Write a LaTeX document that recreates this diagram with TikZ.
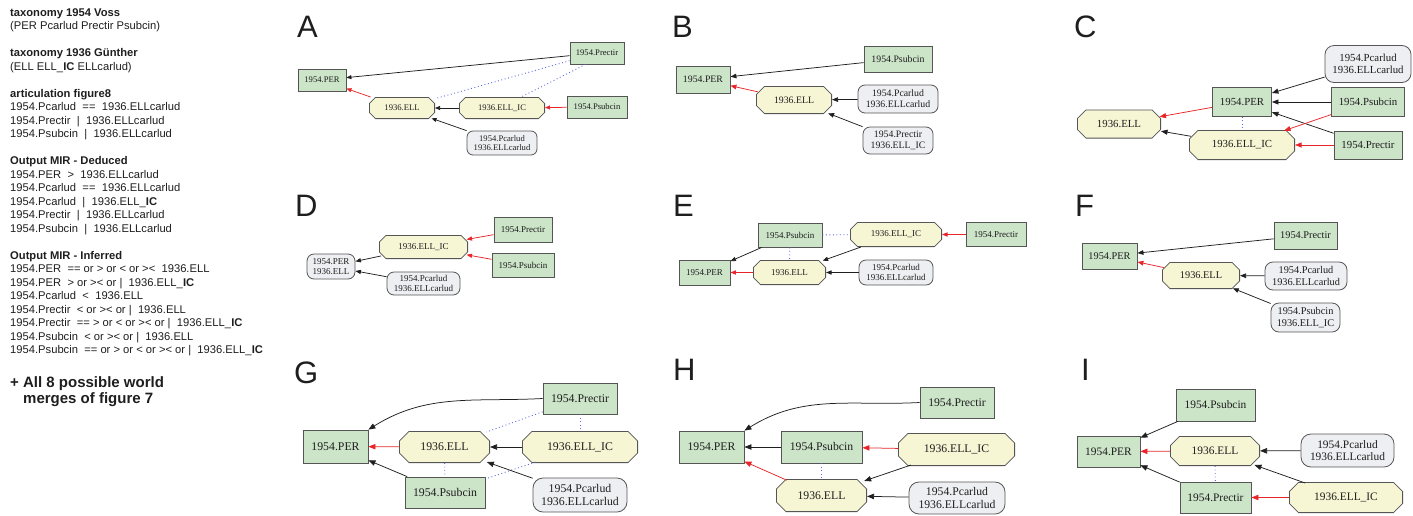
\documentclass[tikz,border=0pt]{standalone}
\usepackage{fontspec}
\setmainfont{Liberation Serif}
\newfontfamily\sansf{Liberation Sans}
\usetikzlibrary{arrows.meta}
\definecolor{boxgreen}{RGB}{204,228,200}
\definecolor{octyellow}{RGB}{246,245,212}
\definecolor{rgray}{RGB}{238,239,242}
\definecolor{bordergray}{RGB}{85,85,85}
\definecolor{edgered}{RGB}{232,38,42}
\definecolor{dotblue}{RGB}{90,106,224}
\definecolor{txt}{RGB}{30,30,30}
\newcommand{\dsp}{\hspace{0.56em}}
\newcommand{\chm}{7}
\tikzset{
  x=1pt, y=1pt,
  sz/.style 2 args={minimum width=#1pt, minimum height=#2pt},
  gb/.style={rectangle, draw=bordergray, fill=boxgreen, line width=0.8pt, inner sep=0pt, align=center, text=txt},
  oc/.style={rectangle, inner sep=0pt, outer sep=0pt, text=txt,
    path picture={
      \path[fill=octyellow, draw=bordergray, line width=0.8pt, line join=miter]
        ([shift={(\chm,-0.4)}]path picture bounding box.north west)
        -- ([shift={(-\chm,-0.4)}]path picture bounding box.north east)
        -- ([shift={(-0.4,-\chm)}]path picture bounding box.north east)
        -- ([shift={(-0.4,\chm)}]path picture bounding box.south east)
        -- ([shift={(-\chm,0.4)}]path picture bounding box.south east)
        -- ([shift={(\chm,0.4)}]path picture bounding box.south west)
        -- ([shift={(0.4,\chm)}]path picture bounding box.south west)
        -- ([shift={(0.4,-\chm)}]path picture bounding box.north west)
        -- cycle;
    }},
  rb/.style={rectangle, rounded corners=#1pt, draw=bordergray, fill=rgray, line width=0.8pt, inner sep=0pt, align=center, text=txt},
  ah/.style={-{Triangle[length=5pt,width=4pt]}},
  blk/.style={draw=black!88, line width=0.75pt, ah},
  rd/.style={draw=edgered, line width=0.75pt, ah},
  dt/.style={draw=dotblue, line width=0.9pt, dash pattern=on 0.9pt off 2.6pt},
  lt/.style={anchor=base west, inner sep=0pt, font=\sansf\fontsize{11.2}{13.5}\selectfont, text=txt},
  bt/.style={anchor=base west, inner sep=0pt, font=\sansf\bfseries\fontsize{15}{17}\selectfont, text=txt},
  letter/.style={anchor=base west, inner sep=0pt, font=\sansf\fontsize{31}{31}\selectfont, text=txt}
}
\begin{document}
\begin{tikzpicture}
\useasboundingbox (0,0) rectangle (1413,-515);
% ---------------- left text
\node[lt] (t1) at (10,-16) {\bfseries taxonomy 1954 Voss};
\node[lt] (t2) at (10,-29.5) {(PER Pcarlud Prectir Psubcin)};
\node[lt] (t3) at (10,-56.5) {\bfseries taxonomy 1936 Günther};
\node[lt] (t4) at (10,-70) {(ELL ELL\_\textbf{IC} ELLcarlud)};
\node[lt] (t5) at (10,-97) {\bfseries articulation figure8};
\node[lt] (t6) at (10,-110.5) {1954.Pcarlud\dsp==\dsp1936.ELLcarlud};
\node[lt] (t7) at (10,-124) {1954.Prectir\dsp|\dsp1936.ELLcarlud};
\node[lt] (t8) at (10,-137.5) {1954.Psubcin\dsp|\dsp1936.ELLcarlud};
\node[lt] (t9) at (10,-164.5) {\bfseries Output MIR - Deduced};
\node[lt] (t10) at (10,-178) {1954.PER\dsp>\dsp1936.ELLcarlud};
\node[lt] (t11) at (10,-191.5) {1954.Pcarlud\dsp==\dsp1936.ELLcarlud};
\node[lt] (t12) at (10,-205) {1954.Pcarlud\dsp|\dsp1936.ELL\_\textbf{IC}};
\node[lt] (t13) at (10,-218.5) {1954.Prectir\dsp|\dsp1936.ELLcarlud};
\node[lt] (t14) at (10,-232) {1954.Psubcin\dsp|\dsp1936.ELLcarlud};
\node[lt] (t15) at (10,-259) {\bfseries Output MIR - Inferred};
\node[lt] (t16) at (10,-272.5) {1954.PER\dsp== or > or < or ><\dsp1936.ELL};
\node[lt] (t17) at (10,-286) {1954.PER\dsp> or >< or |\dsp1936.ELL\_\textbf{IC}};
\node[lt] (t18) at (10,-299.5) {1954.Pcarlud\dsp<\dsp1936.ELL};
\node[lt] (t19) at (10,-313) {1954.Prectir\dsp< or >< or |\dsp1936.ELL};
\node[lt] (t20) at (10,-326.5) {1954.Prectir\dsp== > or < or >< or |\dsp1936.ELL\_\textbf{IC}};
\node[lt] (t21) at (10,-340) {1954.Psubcin\dsp< or >< or |\dsp1936.ELL};
\node[lt] (t22) at (10,-353.5) {1954.Psubcin\dsp== or > or < or >< or |\dsp1936.ELL\_\textbf{IC}};
\node[bt] (t23) at (10,-387) {+ All 8 possible world};
\node[bt] (t24) at (23,-403) {merges of figure 7};
% ---------------- letters
\node[letter] (LA) at (297,-37) {A};
\node[letter] (LB) at (672,-37) {B};
\node[letter] (LC) at (1074,-37) {C};
\node[letter] (LD) at (295,-216) {D};
\node[letter] (LE) at (673,-216) {E};
\node[letter] (LF) at (1075,-216) {F};
\node[letter] (LG) at (294,-383) {G};
\node[letter] (LH) at (673,-380) {H};
\node[letter] (LI) at (1081,-380) {I};
% ---------------- panel A
\begin{scope}[every node/.append style={font=\fontsize{8.6}{9.5}\selectfont},
  ah/.style={-{Triangle[length=5pt,width=4pt]}}]
\renewcommand{\chm}{6.5}
\node[gb,sz={48}{22}] (aPER) at (322,-80) {1954.PER};
\node[oc,sz={66}{22}] (aELL) at (402,-108) {1936.ELL};
\node[oc,sz={86}{22}] (aIC) at (502,-108) {1936.ELL\_IC};
\node[gb,sz={60}{22}] (aPsub) at (597,-107) {1954.Psubcin};
\node[gb,sz={54}{22}] (aPrec) at (597,-53) {1954.Prectir};
\node[rb=6,sz={70}{24}] (aPc) at (502,-143) {1954.Pcarlud\\1936.ELLcarlud};
\draw[dt] (aPrec) -- (aELL);
\draw[dt] (aPrec.225) -- (aIC.30);
\draw[blk] (aPrec) -- (aPER);
\draw[rd] (aELL) -- (aPER);
\draw[blk] (aIC) -- (aELL);
\draw[rd] (aPsub) -- (aIC);
\draw[blk, shorten >=-2pt] (aPc) -- (aELL);
\end{scope}
% ---------------- panel B
\begin{scope}[every node/.append style={font=\fontsize{9.8}{10.8}\selectfont},
  ah/.style={-{Triangle[length=6pt,width=4.6pt]}}]
\renewcommand{\chm}{8.5}
\node[gb,sz={54}{27}] (bPER) at (703,-79.5) {1954.PER};
\node[oc,sz={76}{28}] (bELL) at (794,-100) {1936.ELL};
\node[gb,sz={68}{26}] (bPsub) at (898,-59) {1954.Psubcin};
\node[rb=7,sz={80}{28}] (bPc) at (898,-99) {1954.Pcarlud\\1936.ELLcarlud};
\node[rb=7,sz={70}{27}] (bPrIC) at (898,-140.5) {1954.Prectir\\1936.ELL\_IC};
\draw[blk] (bPsub) -- (bPER);
\draw[rd, shorten <=-2pt] (bELL) -- (bPER);
\draw[blk] (bPc) -- (bELL);
\draw[blk, shorten >=-2pt] (bPrIC) -- (bELL);
\end{scope}
% ---------------- panel C
\begin{scope}[every node/.append style={font=\fontsize{10.8}{11.9}\selectfont},
  ah/.style={-{Triangle[length=6.5pt,width=5pt]}}]
\renewcommand{\chm}{9}
\node[rb=9,sz={86}{37}] (cPc) at (1368,-64) {1954.Pcarlud\\1936.ELLcarlud};
\node[gb,sz={59}{29}] (cPER) at (1242,-102) {1954.PER};
\node[gb,sz={73}{29}] (cPsub) at (1368,-102) {1954.Psubcin};
\node[gb,sz={68}{28}] (cPrec) at (1368,-145) {1954.Prectir};
\node[oc,sz={84}{29}] (cELL) at (1119,-124) {1936.ELL};
\node[oc,sz={106}{30}] (cIC) at (1242,-145) {1936.ELL\_IC};
\draw[dt] (cPER) -- (cIC);
\draw[blk] (cPc) -- (cPER);
\draw[blk] (cPsub) -- (cPER);
\draw[blk] (cPrec) -- (cPER);
\draw[rd, shorten >=-1.5pt] (cPER) -- (cELL);
\draw[blk, shorten <=-2pt] (cIC) -- (cELL);
\draw[rd, shorten >=-2pt] (cPsub) -- (cIC);
\draw[rd] (cPrec) -- (cIC);
\end{scope}
% ---------------- panel D
\begin{scope}[every node/.append style={font=\fontsize{9}{9.9}\selectfont},
  ah/.style={-{Triangle[length=5.5pt,width=4.2pt]}}]
\renewcommand{\chm}{7}
\node[rb=7,sz={48}{25}] (dPE) at (331,-266.5) {1954.PER\\1936.ELL};
\node[oc,sz={89}{24}] (dIC) at (423.5,-247) {1936.ELL\_IC};
\node[gb,sz={58}{25}] (dPrec) at (523,-229.5) {1954.Prectir};
\node[gb,sz={62}{24}] (dPsub) at (523,-265) {1954.Psubcin};
\node[rb=7,sz={73}{23}] (dPc) at (423.5,-283.5) {1954.Pcarlud\\1936.ELLcarlud};
\draw[blk, shorten <=-2pt] (dIC) -- (dPE);
\draw[blk] (dPc) -- (dPE);
\draw[rd, shorten >=-1.5pt] (dPrec) -- (dIC);
\draw[rd, shorten >=-1.5pt] (dPsub) -- (dIC);
\end{scope}
% ---------------- panel E
\begin{scope}[every node/.append style={font=\fontsize{9}{9.9}\selectfont},
  ah/.style={-{Triangle[length=5.5pt,width=4.2pt]}}]
\renewcommand{\chm}{7.5}
\node[gb,sz={64}{24}] (ePsub) at (790,-235) {1954.Psubcin};
\node[oc,sz={92}{25}] (eIC) at (896,-234.5) {1936.ELL\_IC};
\node[gb,sz={60}{24}] (ePrec) at (996,-234.5) {1954.Prectir};
\node[gb,sz={51}{25}] (ePER) at (704.5,-272.5) {1954.PER};
\node[oc,sz={73}{25}] (eELL) at (789.5,-272.5) {1936.ELL};
\node[rb=7,sz={74}{25}] (ePc) at (896,-272.5) {1954.Pcarlud\\1936.ELLcarlud};
\draw[dt] (ePsub) -- (eIC);
\draw[dt] (ePsub) -- (eELL);
\draw[blk] (ePsub) -- (ePER);
\draw[rd] (eELL) -- (ePER);
\draw[blk, shorten >=-2pt] (eIC) -- (eELL);
\draw[blk] (ePc) -- (eELL);
\draw[rd] (ePrec) -- (eIC);
\end{scope}
% ---------------- panel F
\begin{scope}[every node/.append style={font=\fontsize{10.3}{11.3}\selectfont},
  ah/.style={-{Triangle[length=6pt,width=4.6pt]}}]
\renewcommand{\chm}{8}
\node[gb,sz={55}{26}] (fPER) at (1109.5,-256) {1954.PER};
\node[gb,sz={63}{27}] (fPrec) at (1305.5,-235.5) {1954.Prectir};
\node[oc,sz={78}{27}] (fELL) at (1201,-275.5) {1936.ELL};
\node[rb=8,sz={82}{28}] (fPc) at (1306,-276) {1954.Pcarlud\\1936.ELLcarlud};
\node[rb=8,sz={69}{29}] (fPsIC) at (1305.5,-317.5) {1954.Psubcin\\1936.ELL\_IC};
\draw[blk] (fPrec) -- (fPER);
\draw[rd, shorten <=-2pt] (fELL) -- (fPER);
\draw[blk] (fPc) -- (fELL);
\draw[blk, shorten >=-2pt] (fPsIC) -- (fELL);
\end{scope}
% ---------------- panel G
\begin{scope}[every node/.append style={font=\fontsize{11.8}{13}\selectfont},
  ah/.style={-{Triangle[length=7pt,width=5.4pt]}}]
\renewcommand{\chm}{10}
\node[gb,sz={65}{33}] (gPER) at (335.5,-446.5) {1954.PER};
\node[oc,sz={91}{32}] (gELL) at (444.5,-447) {1936.ELL};
\node[oc,sz={116}{32}] (gIC) at (580,-447) {1936.ELL\_IC};
\node[gb,sz={74}{31}] (gPrec) at (580,-398.5) {1954.Prectir};
\node[gb,sz={80}{31}] (gPsub) at (445,-492.5) {1954.Psubcin};
\node[rb=10,sz={94}{34}] (gPc) at (580,-495) {1954.Pcarlud\\1936.ELLcarlud};
\draw[dt, shorten >=-3pt] (gPrec) -- (gELL);
\draw[dt] (gPrec) -- (gIC);
\draw[dt] (gELL) -- (gPsub);
\draw[dt, shorten <=-3pt] (gIC) -- (gPsub);
\draw[blk] (gPrec.west) to[out=183,in=32] (gPER.north east);
\draw[rd] (gELL) -- (gPER);
\draw[blk] (gPsub) -- (gPER);
\draw[blk] (gIC) -- (gELL);
\draw[blk, shorten >=-3pt] (gPc) -- (gELL);
\end{scope}
% ---------------- panel H
\begin{scope}[every node/.append style={font=\fontsize{11.7}{12.9}\selectfont},
  ah/.style={-{Triangle[length=7pt,width=5.4pt]}}]
\renewcommand{\chm}{10}
\node[gb,sz={65}{32}] (hPER) at (711.5,-447) {1954.PER};
\node[gb,sz={81}{32}] (hPsub) at (821.5,-447) {1954.Psubcin};
\node[gb,sz={74}{31}] (hPrec) at (957,-402.5) {1954.Prectir};
\node[oc,sz={117}{33}] (hIC) at (956.5,-449.5) {1936.ELL\_IC};
\node[oc,sz={91}{33}] (hELL) at (821.5,-495.5) {1936.ELL};
\node[rb=10,sz={96}{32}] (hPc) at (957,-498) {1954.Pcarlud\\1936.ELLcarlud};
\draw[dt] (hPsub) -- (hELL);
\draw[blk] (hPrec.west) to[out=183,in=32] (hPER.north east);
\draw[blk] (hPsub) -- (hPER);
\draw[rd, shorten <=-3pt] (hELL) -- (hPER);
\draw[rd] (hIC) -- (hPsub);
\draw[blk, shorten <=-3pt, shorten >=-3pt] (hIC) -- (hELL);
\draw[blk] (hPc) -- (hELL);
\end{scope}
% ---------------- panel I
\begin{scope}[every node/.append style={font=\fontsize{11.4}{12.6}\selectfont},
  ah/.style={-{Triangle[length=7pt,width=5.4pt]}}]
\renewcommand{\chm}{9.5}
\node[gb,sz={79}{32}] (iPsub) at (1215.5,-405) {1954.Psubcin};
\node[gb,sz={63}{31}] (iPER) at (1108.5,-451.5) {1954.PER};
\node[oc,sz={90}{30}] (iELL) at (1215,-451) {1936.ELL};
\node[rb=10,sz={93}{33}] (iPc) at (1347.5,-450.5) {1954.Pcarlud\\1936.ELLcarlud};
\node[gb,sz={71}{31}] (iPrec) at (1215.5,-497.5) {1954.Prectir};
\node[oc,sz={114}{31}] (iIC) at (1346,-497.5) {1936.ELL\_IC};
\draw[dt] (iELL) -- (iPrec);
\draw[blk] (iPsub) -- (iPER);
\draw[rd] (iELL) -- (iPER);
\draw[blk] (iPrec) -- (iPER);
\draw[blk] (iPc) -- (iELL);
\draw[blk, shorten <=-3pt, shorten >=-3pt] (iIC) -- (iELL);
\draw[rd] (iIC) -- (iPrec);
\end{scope}
\end{tikzpicture}
\end{document}
